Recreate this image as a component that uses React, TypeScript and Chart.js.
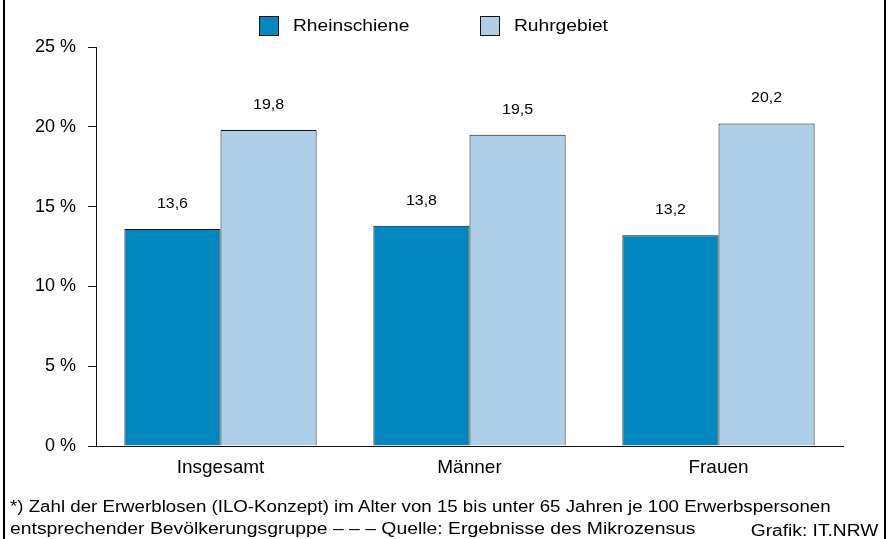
import React, { useEffect, useRef } from "react";
import { Chart, registerables } from "chart.js";

Chart.register(...registerables);

const categories = ["Insgesamt", "Männer", "Frauen"];
const rheinschiene = [13.6, 13.8, 13.2];
const ruhrgebiet = [19.8, 19.5, 20.2];
const seriesNames = ["Rheinschiene", "Ruhrgebiet"];
const seriesColors = ["#0087bf", "#aecfe7"];
const yTicks = [0, 5, 10, 15, 20, 25];
const footLine1 =
  "*) Zahl der Erwerblosen (ILO-Konzept) im Alter von 15 bis unter 65 Jahren je 100 Erwerbspersonen";
const footLine2 =
  "entsprechender Bevölkerungsgruppe – – – Quelle: Ergebnisse des Mikrozensus";
const credit = "Grafik: IT.NRW";

const FONT = "'Liberation Sans', Arial, Helvetica, sans-serif";

const fmt = (v: number) => v.toFixed(1).replace(".", ",");

const drawStretched = (ctx: any, text: string, x: number, y: number, sx: number) => {
  ctx.save();
  ctx.translate(x, y);
  ctx.scale(sx, 1);
  ctx.fillText(text, 0, 0);
  ctx.restore();
};

const legendPlugin = {
  id: "customLegend",
  afterDraw(chart: any) {
    const ctx = chart.ctx;
    const startX = 259;
    const itemSpacing = 221;
    const boxY = 16;
    const box = 20;
    ctx.save();
    ctx.font = `16px ${FONT}`;
    ctx.textBaseline = "middle";
    ctx.textAlign = "left";
    chart.data.datasets.forEach((ds: any, i: number) => {
      const x = startX + i * itemSpacing;
      ctx.fillStyle = ds.backgroundColor;
      ctx.fillRect(x, boxY, box, box);
      ctx.strokeStyle = "#111";
      ctx.lineWidth = 1;
      ctx.strokeRect(x + 0.5, boxY + 0.5, box - 1, box - 1);
      ctx.fillStyle = "#000";
      drawStretched(ctx, ds.label, x + box + 14, boxY + box / 2 + 1, 1.2);
    });
    ctx.restore();
  },
};

const valueLabelPlugin = {
  id: "valueLabels",
  afterDatasetsDraw(chart: any) {
    const ctx = chart.ctx;
    ctx.save();
    ctx.font = `14px ${FONT}`;
    ctx.fillStyle = "#000";
    ctx.textAlign = "center";
    ctx.textBaseline = "middle";
    chart.data.datasets.forEach((ds: any, i: number) => {
      const meta = chart.getDatasetMeta(i);
      meta.data.forEach((bar: any, j: number) => {
        drawStretched(ctx, fmt(ds.data[j]), bar.x, bar.y - 25, 1.14);
      });
    });
    ctx.restore();
  },
};

export default function App() {
  const canvasRef = useRef<HTMLCanvasElement | null>(null);

  useEffect(() => {
    if (!canvasRef.current) return;
    const chart = new Chart(canvasRef.current, {
      type: "bar",
      data: {
        labels: categories,
        datasets: [
          {
            label: seriesNames[0],
            data: rheinschiene,
            backgroundColor: seriesColors[0],
            borderColor: "#111",
            borderWidth: 1,
            categoryPercentage: 0.772,
            barPercentage: 1,
          },
          {
            label: seriesNames[1],
            data: ruhrgebiet,
            backgroundColor: seriesColors[1],
            borderColor: "#111",
            borderWidth: 1,
            categoryPercentage: 0.772,
            barPercentage: 1,
          },
        ],
      },
      options: {
        animation: false,
        responsive: false,
        maintainAspectRatio: false,
        devicePixelRatio: 1,
        layout: { padding: { left: 0, right: 52, top: 47, bottom: 60 } },
        plugins: {
          legend: { display: false },
          tooltip: { enabled: false },
        },
        scales: {
          x: {
            grid: { display: false, drawTicks: false },
            border: { display: true, color: "#111", width: 1 },
            ticks: {
              color: "#000",
              font: { family: FONT, size: 19 },
              padding: 10,
            },
            afterFit: (scale: any) => {
              scale.height = 33;
            },
          },
          y: {
            min: 0,
            max: 25,
            afterBuildTicks: (scale: any) => {
              scale.ticks = yTicks.map((v) => ({ value: v }));
            },
            grid: {
              drawOnChartArea: false,
              drawTicks: true,
              tickLength: 8,
              color: "#111",
            },
            border: { display: true, color: "#111", width: 1 },
            ticks: {
              color: "#000",
              font: { family: FONT, size: 18 },
              padding: 12,
              callback: (v: any) => `${v} %`,
            },
            afterFit: (scale: any) => {
              scale.width = 96;
            },
          },
        },
      },
      plugins: [legendPlugin, valueLabelPlugin],
    });
    return () => chart.destroy();
  }, []);

  const textStyle: React.CSSProperties = {
    position: "absolute",
    fontFamily: FONT,
    fontSize: 16,
    color: "#000",
    whiteSpace: "nowrap",
    lineHeight: "20px",
  };

  return (
    <div
      style={{
        position: "fixed",
        left: 0,
        top: 0,
        width: 895,
        height: 539,
        background: "#fff",
        overflow: "hidden",
      }}
    >
      <canvas
        ref={canvasRef}
        width={895}
        height={539}
        style={{ position: "absolute", left: 0, top: 0, width: 895, height: 539 }}
      />
      <div style={{ position: "absolute", left: 3, top: 0, width: 2, height: 539, background: "#000" }} />
      <div style={{ position: "absolute", left: 884, top: 0, width: 2, height: 539, background: "#000" }} />
      <div style={{ ...textStyle, left: 10, top: 497, transform: "scaleX(1.168)", transformOrigin: "left center" }}>
        {footLine1}
      </div>
      <div style={{ ...textStyle, left: 10, top: 519, transform: "scaleX(1.21)", transformOrigin: "left center" }}>
        {footLine2}
      </div>
      <div style={{ ...textStyle, right: 895 - 878, top: 521, transform: "scaleX(1.2)", transformOrigin: "right center" }}>
        {credit}
      </div>
    </div>
  );
}
